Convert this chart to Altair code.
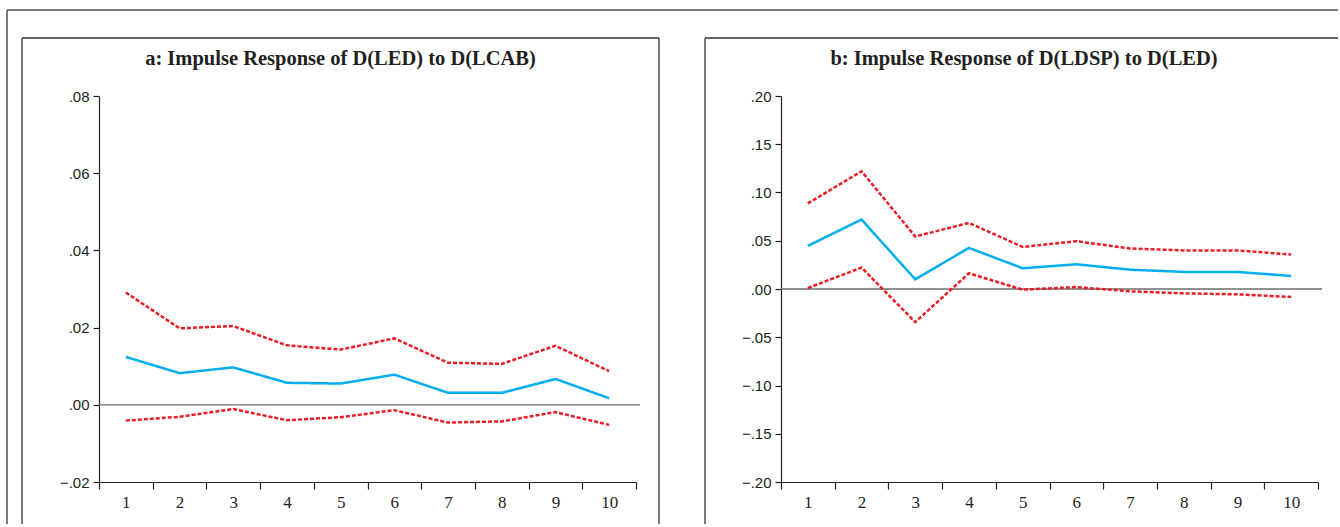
import altair as alt
import pandas as pd

# ---------------- data ----------------
periods = [1, 2, 3, 4, 5, 6, 7, 8, 9, 10]

a_response = [0.0124, 0.0082, 0.0097, 0.0057, 0.0055, 0.0078, 0.0031, 0.0031, 0.0067, 0.0017]
a_upper = [0.0291, 0.0198, 0.0204, 0.0154, 0.0143, 0.0172, 0.0109, 0.0106, 0.0153, 0.0087]
a_lower = [-0.0041, -0.0031, -0.0011, -0.0040, -0.0032, -0.0014, -0.0046, -0.0043, -0.0019, -0.0052]

b_response = [0.0447, 0.0720, 0.0100, 0.0426, 0.0215, 0.0256, 0.0200, 0.0177, 0.0177, 0.0135]
b_upper = [0.0887, 0.1220, 0.0544, 0.0685, 0.0436, 0.0495, 0.0420, 0.0400, 0.0400, 0.0357]
b_lower = [0.0010, 0.0222, -0.0343, 0.0163, -0.0007, 0.0020, -0.0024, -0.0045, -0.0055, -0.0083]

a_ticks = [-0.02, 0.00, 0.02, 0.04, 0.06, 0.08]
b_ticks = [-0.20, -0.15, -0.10, -0.05, 0.00, 0.05, 0.10, 0.15, 0.20]

a_title = "a: Impulse Response of D(LED) to D(LCAB)"
b_title = "b: Impulse Response of D(LDSP) to D(LED)"

series_names = ["Response", "Upper", "Lower"]

# ---------------- styling ----------------
INK = "#231f20"
BLUE = "#00aeef"
RED = "#ed1c24"
PLOT_W = 537
PLOT_H = 386
BOTTOM = 428  # frames run to the bottom edge of the page

one_row = pd.DataFrame({"k": [0]})


def seg(x1, x2, y1, y2, color="#333333", width=1.3):
    return alt.Chart(one_row).mark_rule(color=color, strokeWidth=width).encode(
        x=alt.value(x1), x2=alt.value(x2), y=alt.value(y1), y2=alt.value(y2)
    )


def heading(text, cx):
    return alt.Chart(one_row).mark_text(
        text=text, align="center", baseline="alphabetic",
        font="Liberation Serif", fontSize=20.5, fontWeight="bold", color=INK,
    ).encode(x=alt.value(cx), y=alt.value(-31))


def panel(resp, upper, lower, ticks, title, title_cx, frame_segs):
    df = pd.DataFrame({
        "period": periods * 3,
        "value": resp + upper + lower,
        "series": [series_names[0]] * 10 + [series_names[1]] * 10 + [series_names[2]] * 10,
    })
    x = alt.X(
        "period:O",
        bandPosition=0.5,
        scale=alt.Scale(type="band", paddingInner=0, paddingOuter=0),
        axis=alt.Axis(
            title=None, labelAngle=0, tickBand="extent", tickSize=7, tickWidth=1.2,
            tickColor=INK, domainColor=INK, domainWidth=1.2, labelPadding=5,
            labelFont="Liberation Serif", labelFontSize=17, labelColor=INK, grid=False,
        ),
    )
    y = alt.Y(
        "value:Q",
        scale=alt.Scale(domain=[ticks[0], ticks[-1]], nice=False, zero=False),
        axis=alt.Axis(
            title=None, values=ticks, tickSize=6, tickWidth=1.2, tickColor=INK,
            domainColor=INK, domainWidth=1.2, labelPadding=4,
            labelFont="Liberation Sans", labelFontSize=15, labelColor=INK, grid=False,
            labelExpr="replace(format(datum.value, '.2f'), '0.', '.')",
        ),
    )
    zero = alt.Chart(one_row).mark_rule(color="#6d6d6d", strokeWidth=1.3).encode(
        y=alt.datum(0), x=alt.value(0), x2=alt.value(PLOT_W + 4)
    )
    lines = alt.Chart(df).mark_line(strokeWidth=2.5, strokeCap="butt").encode(
        x=x,
        y=y,
        detail="series:N",
        color=alt.Color("series:N", scale=alt.Scale(domain=series_names, range=[BLUE, RED, RED]), legend=None),
        strokeDash=alt.StrokeDash(
            "series:N",
            scale=alt.Scale(domain=series_names, range=[[1, 0], [4, 2], [4, 2]]),
            legend=None,
        ),
    )
    return alt.layer(zero, lines, heading(title, title_cx), *frame_segs).properties(
        width=PLOT_W,
        height=PLOT_H,
    )


frame_a = [
    seg(-92, 1239, -86, -86, "#505050", 1.5),   # outer frame top
    seg(-92, -92, -86, BOTTOM, "#505050", 1.5),  # outer frame left
    seg(-77, 560, -58, -58),
    seg(-77, -77, -58, BOTTOM),
    seg(560, 560, -58, BOTTOM),
]
frame_b = [
    seg(-76, 557, -58, -58),
    seg(-76, -76, -58, BOTTOM),
]

pa = panel(a_response, a_upper, a_lower, a_ticks, a_title, 241.5, frame_a)
pb = panel(b_response, b_upper, b_lower, b_ticks, b_title, 243, frame_b)

chart = alt.hconcat(pa, pb, spacing=145, bounds="flush").properties(
    padding={"left": 6, "top": 9, "right": 0, "bottom": 0},
    background="white",
).configure_view(strokeWidth=0)

chart.save("out.html", embed_options={"renderer": "svg", "actions": False})
